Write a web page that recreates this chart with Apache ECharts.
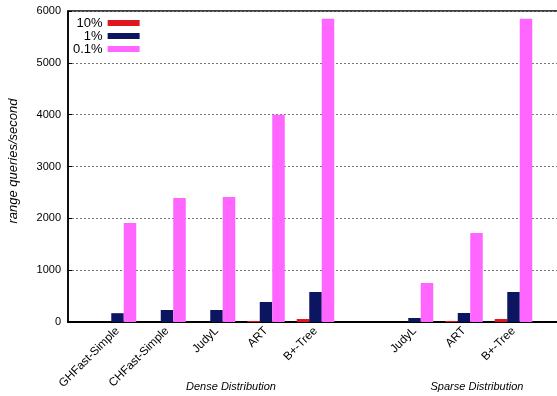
<!DOCTYPE html>
<html>
<head>
<meta charset="utf-8">
<script src="https://cdn.jsdelivr.net/npm/echarts@6/dist/echarts.min.js"></script>
<style>
html,body{margin:0;padding:0;background:#fff;}
#chart{width:557px;height:396px;}
</style>
</head>
<body>
<div id="chart"></div>
<script>
const categories = ['', 'GHFast-Simple', 'CHFast-Simple', 'JudyL', 'ART', 'B+-Tree', '', 'JudyL', 'ART', 'B+-Tree', '', ''];
const seriesNames = ['10%', '1%', '0.1%'];
const sel10 = [null, 0, 0, 0, 20, 58, null, 0, 20, 58, null, null];
const sel1 = [null, 170, 232, 232, 386, 579, null, 77, 174, 579, null, null];
const sel01 = [null, 1911, 2394, 2413, 3996, 5849, null, 753, 1718, 5849, null, null];
const groupLabels = ['Dense Distribution', 'Sparse Distribution'];
const yTicks = [0, 1000, 2000, 3000, 4000, 5000, 6000];

const FONT = '"Liberation Sans", Arial, sans-serif';
const colors = ['#e0161f', '#0c1660', '#ff66ff'];
const chart = echarts.init(document.getElementById('chart'), null, {renderer: 'canvas'});
const values = [sel10, sel1, sel01];

chart.setOption({
  animation: false,
  color: colors,
  grid: {
    left: 68, top: 11, bottom: 74, width: 544.5,
    outerBoundsMode: 'none', containLabel: false,
    show: true, borderColor: '#000', borderWidth: 1.5, backgroundColor: '#fff'
  },
  legend: {
    orient: 'vertical', align: 'right', left: 73, top: 16.5, padding: 0,
    itemGap: 0, itemWidth: 32, itemHeight: 6, icon: 'rect',
    textStyle: {fontFamily: FONT, fontSize: 13, color: '#000', lineHeight: 11},
    data: seriesNames
  },
  xAxis: {
    type: 'category', data: categories, boundaryGap: false,
    axisLine: {show: true, lineStyle: {color: '#000', width: 2}},
    axisTick: {show: false},
    axisLabel: {interval: 0, rotate: 45, margin: 7, fontFamily: FONT, fontSize: 11.7, color: '#000'},
    splitLine: {show: false}
  },
  yAxis: {
    type: 'value', min: yTicks[0], max: yTicks[yTicks.length - 1], interval: 1000,
    name: 'range queries/second', nameLocation: 'middle', nameGap: 48, nameRotate: 90,
    nameTextStyle: {fontFamily: FONT, fontSize: 13, fontStyle: 'italic', color: '#000', padding: [0, 0, 0, 11]},
    axisLine: {show: true, lineStyle: {color: '#000', width: 1.5}},
    axisTick: {show: true, inside: true, length: 4, lineStyle: {color: '#000'}},
    axisLabel: {margin: 7, fontFamily: FONT, fontSize: 11, color: '#000', formatter: v => String(v)},
    splitLine: {show: true, lineStyle: {type: [2, 2], color: '#777', width: 1}}
  },
  series: seriesNames.map((n, i) => ({
    name: n, type: 'bar', data: values[i], barWidth: 12.5, barGap: '0%',
    itemStyle: {color: colors[i]}
  })),
  graphic: [
    {type: 'text', x: 231, y: 387, style: {text: groupLabels[0], font: 'italic 11px ' + FONT, fill: '#000', align: 'center', verticalAlign: 'middle'}},
    {type: 'text', x: 477, y: 387, style: {text: groupLabels[1], font: 'italic 11px ' + FONT, fill: '#000', align: 'center', verticalAlign: 'middle'}}
  ]
});
</script>
</body>
</html>
